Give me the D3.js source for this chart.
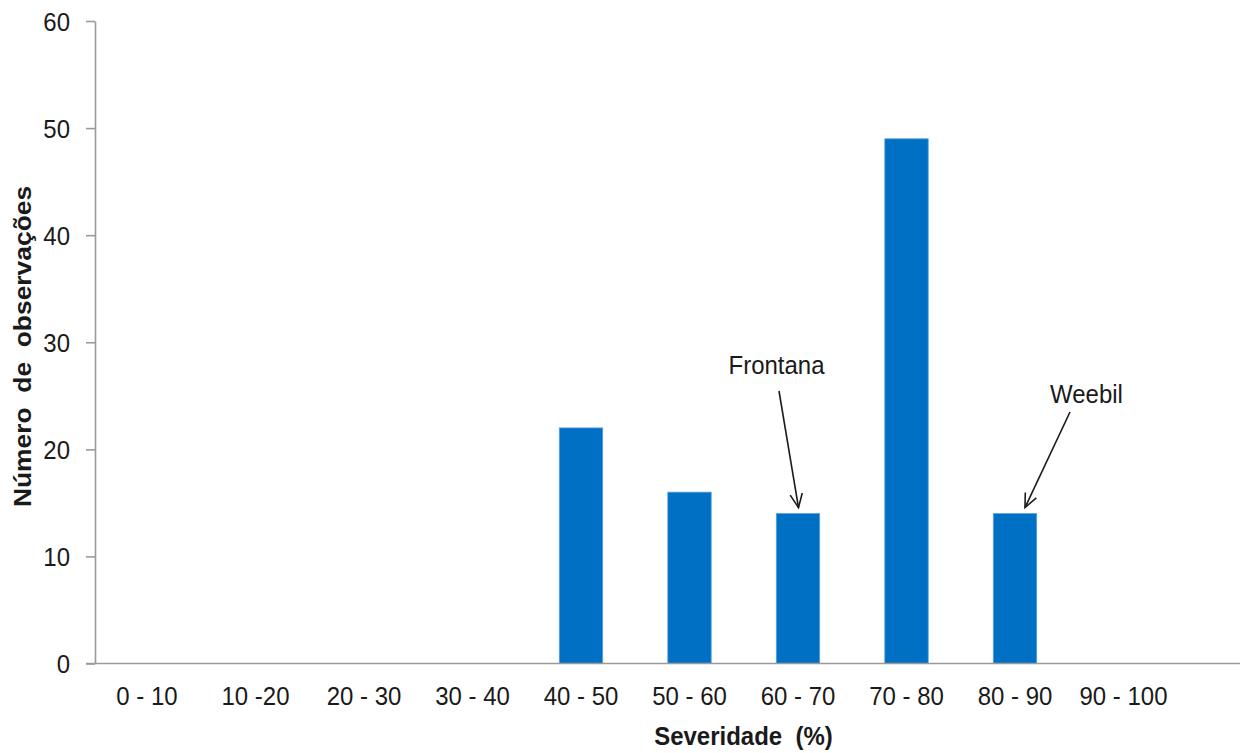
<!DOCTYPE html>
<html>
<head>
<meta charset="utf-8">
<script src="https://cdn.jsdelivr.net/npm/d3@7"></script>
<style>
  html, body { margin: 0; padding: 0; background: #ffffff; }
  svg { display: block; }
  text { font-family: "Liberation Sans", Arial, sans-serif; fill: #1a1a1a; }
</style>
</head>
<body>
<svg id="chart" width="1242" height="753"></svg>
<script>
// Severity classes and number of observations per class
const categories = ["0 - 10", "10 -20", "20 - 30", "30 - 40", "40 - 50",
                    "50 - 60", "60 - 70", "70 - 80", "80 - 90", "90 - 100"];
const observations = [0, 0, 0, 0, 22, 16, 14, 49, 14, 0];
const yTicks = [0, 10, 20, 30, 40, 50, 60];

// Cultivar annotations: label and the class it points to
const annotationLabels = ["Frontana", "Weebil"];
const annotationClasses = ["60 - 70", "80 - 90"];

const svg = d3.select("#chart");
const stretch = "scale(1,1.1)";   // glyphs are drawn slightly taller than wide

const x = d3.scaleBand()
  .domain(categories)
  .range([92.75, 1177.75])
  .paddingInner(0.6)
  .paddingOuter(0.3);

const y = d3.scaleLinear().domain([0, 60]).range([663.5, 21]);

const axisX = 95;
const axisColor = "#9a9a9a";

// Bars
svg.append("g")
  .selectAll("rect")
  .data(categories.map((c, i) => ({ c, v: observations[i] })).filter(d => d.v > 0))
  .join("rect")
  .attr("x", d => x(d.c))
  .attr("y", d => y(d.v))
  .attr("width", x.bandwidth())
  .attr("height", d => y(0) - y(d.v))
  .attr("fill", "#0070c4")
  .attr("stroke", "#5b9fe0")
  .attr("stroke-width", 0.8);

// Y axis
const gy = svg.append("g")
  .attr("transform", `translate(${axisX},0)`)
  .call(d3.axisLeft(y).tickValues(yTicks).tickSize(9).tickSizeOuter(0));
gy.select(".domain").attr("stroke", axisColor).attr("stroke-width", 1.6);
gy.selectAll(".tick line").attr("stroke", axisColor).attr("stroke-width", 1.6);
gy.selectAll(".tick text")
  .attr("x", null).attr("dy", null)
  .attr("transform", `translate(-25,9) ${stretch}`)
  .attr("text-anchor", "end")
  .attr("font-size", 24)
  .style("font-family", "'Liberation Sans', Arial, sans-serif")
  .attr("fill", "#1a1a1a");

// X axis
const gx = svg.append("g")
  .attr("transform", `translate(0,${y(0)})`)
  .call(d3.axisBottom(x).tickSize(0));
gx.select(".domain").remove();
gx.append("line")
  .attr("x1", axisX - 9).attr("x2", 1240)
  .attr("y1", 0).attr("y2", 0)
  .attr("stroke", axisColor).attr("stroke-width", 1.6);
gx.selectAll(".tick text")
  .attr("y", null).attr("dy", null)
  .attr("transform", `translate(0,41.5) ${stretch}`)
  .attr("font-size", 24)
  .style("font-family", "'Liberation Sans', Arial, sans-serif")
  .attr("fill", "#1a1a1a");

// Axis titles
svg.append("text")
  .attr("transform", `translate(743.5,745) ${stretch}`)
  .attr("text-anchor", "middle")
  .attr("font-size", 24)
  .attr("font-weight", "bold")
  .attr("xml:space", "preserve")
  .text("Severidade  (%)");

svg.append("text")
  .attr("transform", `translate(31,346.5) ${stretch} rotate(-90)`)
  .attr("text-anchor", "middle")
  .attr("font-size", 24)
  .attr("font-weight", "bold")
  .attr("xml:space", "preserve")
  .text("Número  de  observações");

// Annotations with arrows pointing at the bar tops
const annotationText = [
  { tx: 776.5, ty: 374, anchor: "middle" },
  { tx: 1086.5, ty: 403, anchor: "middle" }
];
const arrowStart = [[779, 391], [1070, 412]];
const arrowTipOffsetX = [0.5, 10];

const ann = svg.append("g");
annotationLabels.forEach((label, i) => {
  const cls = annotationClasses[i];
  const v = observations[categories.indexOf(cls)];
  const tipX = x(cls) + x.bandwidth() / 2 + arrowTipOffsetX[i];
  const tipY = y(v) - 6;
  const [sx, sy] = arrowStart[i];

  ann.append("text")
    .attr("transform", `translate(${annotationText[i].tx},${annotationText[i].ty}) ${stretch}`)
    .attr("text-anchor", annotationText[i].anchor)
    .attr("font-size", 24)
    .text(label);

  ann.append("line")
    .attr("x1", sx).attr("y1", sy)
    .attr("x2", tipX).attr("y2", tipY)
    .attr("stroke", "#1a1a1a").attr("stroke-width", 1.6);

  // open V arrowhead
  const ang = Math.atan2(tipY - sy, tipX - sx);
  const len = 15, spread = 0.42;
  const p1 = [tipX - len * Math.cos(ang - spread), tipY - len * Math.sin(ang - spread)];
  const p2 = [tipX - len * Math.cos(ang + spread), tipY - len * Math.sin(ang + spread)];
  ann.append("path")
    .attr("d", `M${p1[0]},${p1[1]}L${tipX},${tipY}L${p2[0]},${p2[1]}`)
    .attr("fill", "none")
    .attr("stroke", "#1a1a1a")
    .attr("stroke-width", 1.6);
});
</script>
</body>
</html>
